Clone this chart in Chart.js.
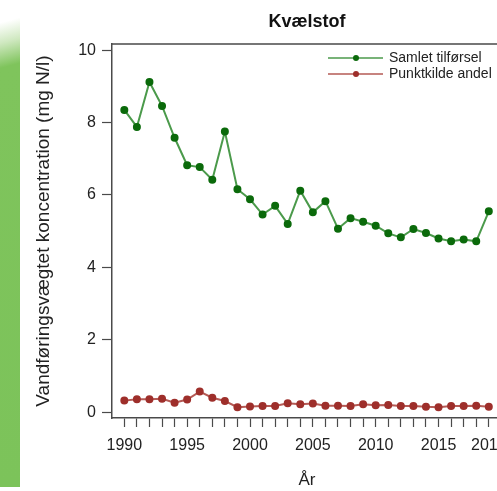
<!DOCTYPE html>
<html>
<head>
<meta charset="utf-8">
<script src="https://cdn.jsdelivr.net/npm/chart.js@4"></script>
<style>
  html, body { margin: 0; padding: 0; background: #fff; overflow: hidden; width: 497px; height: 491px; }
  #wrap { position: relative; width: 520px; height: 491px; }
  #strip { position: absolute; left: 0; top: 0; width: 20px; height: 487px;
    background: linear-gradient(165deg, #ffffff 0px, #ffffff 22px, #cfe8c0 42px, #7fc45c 66px, #7cc35a 100%); }
  #chart { position: absolute; left: 0; top: 0; }
</style>
</head>
<body>
<div id="wrap">
  <div id="strip"></div>
  <canvas id="chart" width="520" height="491"></canvas>
</div>
<script>
// Årlige vandføringsvægtede koncentrationer af kvælstof
const years = [1990, 1991, 1992, 1993, 1994, 1995, 1996, 1997, 1998, 1999,
               2000, 2001, 2002, 2003, 2004, 2005, 2006, 2007, 2008, 2009,
               2010, 2011, 2012, 2013, 2014, 2015, 2016, 2017, 2018, 2019];
const samletTilfoersel = [8.35, 7.88, 9.12, 8.46, 7.58, 6.82, 6.77, 6.42, 7.75, 6.16,
                          5.88, 5.46, 5.70, 5.20, 6.12, 5.52, 5.83, 5.07, 5.36, 5.26,
                          5.15, 4.94, 4.83, 5.06, 4.95, 4.80, 4.72, 4.77, 4.72, 5.55];
const punktkildeAndel = [0.32, 0.36, 0.36, 0.37, 0.26, 0.35, 0.57, 0.40, 0.31, 0.14,
                         0.16, 0.17, 0.17, 0.25, 0.22, 0.24, 0.18, 0.18, 0.17, 0.22,
                         0.19, 0.20, 0.17, 0.17, 0.15, 0.14, 0.17, 0.17, 0.18, 0.15];
const seriesNames = ['Samlet tilførsel', 'Punktkilde andel'];
const yTicks = [0, 2, 4, 6, 8, 10];
const xLabelYears = [1990, 1995, 2000, 2005, 2010, 2015, 2019];
const chartTitle = 'Kvælstof';
const yTitle = 'Vandføringsvægtet koncentration (mg N/l)';
const xTitle = 'År';

const FONT = '"Liberation Sans", Arial, Helvetica, sans-serif';
const AXIS_COLOR = '#4a4a4a';

const toPoints = (vals) => vals.map((v, i) => ({ x: years[i], y: v }));

// Frame, title and legend drawn on top of the plot
const decorations = {
  id: 'decorations',
  afterDraw(chart) {
    const { ctx, chartArea: a } = chart;
    ctx.save();
    // box round the plot
    ctx.strokeStyle = AXIS_COLOR;
    ctx.lineWidth = 1.5;
    ctx.beginPath();
    ctx.moveTo(a.left, a.top);
    ctx.lineTo(a.right, a.top);
    ctx.lineTo(a.right, a.bottom);
    ctx.stroke();

    // title
    ctx.fillStyle = '#111';
    ctx.font = 'bold 18px ' + FONT;
    ctx.textAlign = 'center';
    ctx.textBaseline = 'middle';
    ctx.fillText(chartTitle, (a.left + a.right) / 2, 22);

    // legend
    const rows = [58, 74];
    chart.data.datasets.forEach((ds, i) => {
      const y = rows[i];
      ctx.strokeStyle = ds.borderColor;
      ctx.lineWidth = 1.5;
      ctx.beginPath();
      ctx.moveTo(328, y);
      ctx.lineTo(383, y);
      ctx.stroke();
      ctx.fillStyle = ds.pointBackgroundColor;
      ctx.beginPath();
      ctx.arc(356, y, 3, 0, Math.PI * 2);
      ctx.fill();
      ctx.fillStyle = '#222';
      ctx.font = '14px ' + FONT;
      ctx.textAlign = 'left';
      ctx.textBaseline = 'middle';
      ctx.fillText(ds.label, 389, y);
    });
    ctx.restore();
  }
};

new Chart(document.getElementById('chart'), {
  type: 'line',
  data: {
    datasets: [
      {
        label: seriesNames[0],
        data: toPoints(samletTilfoersel),
        borderColor: '#4b9a4b',
        borderWidth: 2,
        pointBackgroundColor: '#0b6a0b',
        pointBorderColor: '#0b6a0b',
        pointRadius: 3,
        tension: 0
      },
      {
        label: seriesNames[1],
        data: toPoints(punktkildeAndel),
        borderColor: '#b55a55',
        borderWidth: 2,
        pointBackgroundColor: '#9e2f2b',
        pointBorderColor: '#9e2f2b',
        pointRadius: 3,
        tension: 0
      }
    ]
  },
  options: {
    responsive: false,
    animation: false,
    events: [],
    layout: { padding: { left: 0, right: 18, top: 44, bottom: 0 } },
    plugins: {
      legend: { display: false },
      title: { display: false },
      tooltip: { enabled: false }
    },
    scales: {
      x: {
        type: 'linear',
        min: 1989.02,
        max: 2020.05,
        afterBuildTicks: (s) => { s.ticks = years.map(v => ({ value: v })); },
        afterFit: (s) => { s.height = 73; },
        border: { display: true, color: AXIS_COLOR, width: 1.5 },
        grid: { display: true, drawOnChartArea: false, drawTicks: true, tickLength: 9, tickWidth: 1.2, color: AXIS_COLOR },
        ticks: {
          autoSkip: false,
          maxRotation: 0,
          padding: 9,
          color: '#222',
          font: { family: FONT, size: 16 },
          callback: (v) => xLabelYears.includes(v) ? String(v) : ''
        },
        title: { display: true, text: xTitle, color: '#222', font: { family: FONT, size: 17 }, padding: { top: 0, bottom: 0 } }
      },
      y: {
        min: -0.16,
        max: 10.17,
        afterBuildTicks: (s) => { s.ticks = yTicks.map(v => ({ value: v })); },
        afterFit: (s) => { s.width = 112; },
        border: { display: true, color: AXIS_COLOR, width: 1.5 },
        grid: { display: true, drawOnChartArea: false, drawTicks: true, tickLength: 10, tickWidth: 1.2, color: AXIS_COLOR },
        ticks: {
          padding: 6,
          color: '#222',
          font: { family: FONT, size: 16 },
          callback: (v) => String(v)
        },
        title: { display: true, text: yTitle, color: '#222', font: { family: FONT, size: 19 }, padding: { top: 32, bottom: 0 } }
      }
    }
  },
  plugins: [decorations]
});
</script>
</body>
</html>
